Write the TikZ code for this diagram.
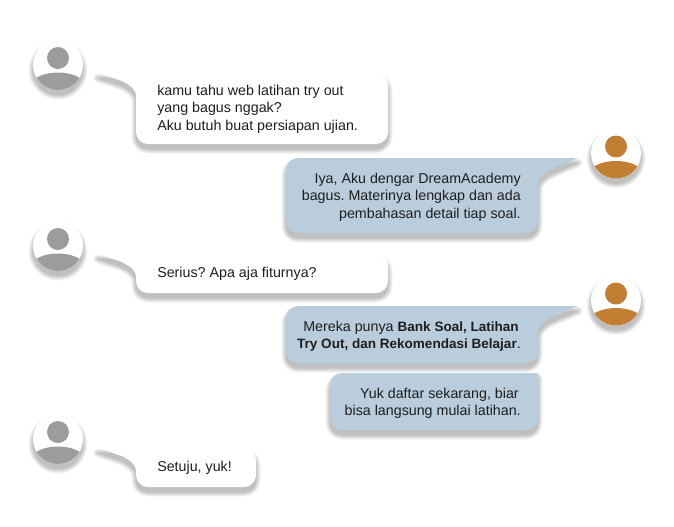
\documentclass[tikz,border=0pt]{standalone}
\usepackage{fontspec}
\setmainfont{Liberation Sans}
\definecolor{bluebub}{HTML}{B9CDDC}
\definecolor{orangeav}{HTML}{C27E33}
\definecolor{greyav}{HTML}{9C9C9C}
\definecolor{inktxt}{HTML}{1E1E1E}
\tikzset{
  shadowlayer/.style={fill=black,draw=black,line join=round},
  msg/.style={inner sep=0pt,text=inktxt,font=\fontsize{10.7pt}{13.1pt}\selectfont\frenchspacing},
  msgleft/.style={msg,anchor=north west,align=left},
  msgright/.style={msg,anchor=north east,align=right}
}
\newcommand\boldmsg[1]{{\fontsize{10.15pt}{13.1pt}\selectfont\bfseries #1}}
\newcommand\softbubble[2]{%
  \foreach \w in {9,7.5,6,4.5,3,1.5,0.2}{%
    \begin{scope}[transparency group,opacity=.04]
      \path[shadowlayer,line width=\w*0.75pt,shift={(0,5)}] #2;
    \end{scope}}
  \fill[#1] #2;
}
\newcommand\useravatar[3]{% x, y, colour
  \softbubble{white}{(#1,#2) circle[radius=25]}
  \fill[#3] (#1,#2-7) circle[radius=11];
  \begin{scope}
    \clip (#1,#2) circle[radius=25];
    \fill[#3] (#1,#2+26) ellipse[x radius=31,y radius=18.5];
  \end{scope}
}
\newcommand\whitepath[3]{% right, top, bottom
  (98,#2) -- (#1-12,#2) arc[start angle=270,end angle=360,radius=12] -- (#1,#3-12) arc[start angle=0,end angle=90,radius=12] -- (148,#3) arc[start angle=90,end angle=180,radius=12] -- (136,#2+24) .. controls (136,#2+16) and (131,#2+13) .. (122,#2+8) -- cycle}
\newcommand\bluetail[3]{% left, top, bottom
  (578,#2) -- (#1+12,#2) arc[start angle=270,end angle=180,radius=12] -- (#1,#3-12) arc[start angle=180,end angle=90,radius=12] -- (526,#3) arc[start angle=90,end angle=0,radius=12] -- (538,#2+27) .. controls (538,#2+20) and (544,#2+15) .. (552,#2+11) -- cycle}
\begin{document}
\begin{tikzpicture}[x=0.75pt,y=-0.75pt]
\useasboundingbox (0,0) rectangle (674,526);
\useravatar{58}{65}{greyav}
\useravatar{58}{246}{greyav}
\useravatar{58}{439}{greyav}
\useravatar{616}{153.5}{orangeav}
\useravatar{616}{300.5}{orangeav}

\softbubble{white}{\whitepath{388}{73}{144}}
\softbubble{white}{\whitepath{388}{254}{293}}
\softbubble{white}{\whitepath{256}{448}{487}}
\softbubble{bluebub}{\bluetail{286}{158}{233}}
\softbubble{bluebub}{\bluetail{286}{306}{363}}
\softbubble{bluebub}{(538,373) -- (342,373) arc[start angle=270,end angle=180,radius=12] -- (330,418) arc[start angle=180,end angle=90,radius=12] -- (526,430) arc[start angle=90,end angle=0,radius=12] -- cycle}

\node[msgleft] (m1) at (157,84.5) {kamu tahu web latihan try out\\yang bagus nggak?\\Aku butuh buat persiapan ujian.};
\node[msgright] (m2) at (521,172.5) {Iya, Aku dengar DreamAcademy\\bagus. Materinya lengkap dan ada\hspace*{3.5pt}\\pembahasan detail tiap soal.};
\node[msgleft] (m3) at (157,266.5) {Serius? Apa aja fiturnya?};
\node[msgright] (m4) at (521,320.5) {Mereka punya \boldmsg{Bank Soal, Latihan}\hspace*{1.5pt}\\\boldmsg{Try Out, dan Rekomendasi Belajar}.};
\node[msgright] (m5) at (521,387.5) {Yuk daftar sekarang, biar\hspace*{1.5pt}\\bisa langsung mulai latihan.};
\node[msgleft] (m6) at (157,460.5) {Setuju, yuk!};
\end{tikzpicture}
\end{document}
